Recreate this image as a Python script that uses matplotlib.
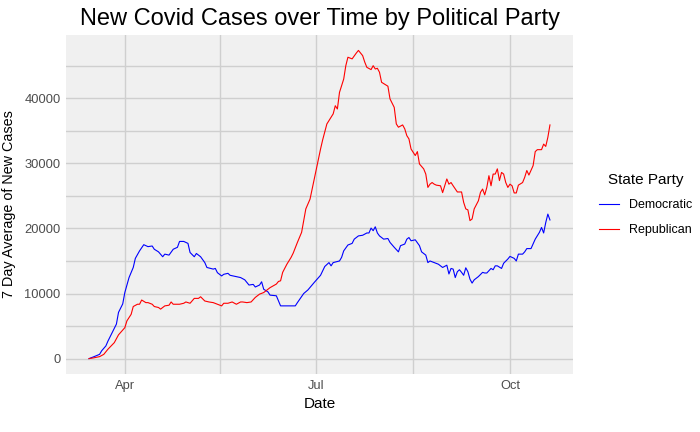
import matplotlib
matplotlib.use('Agg')
import matplotlib.pyplot as plt
import matplotlib.dates as mdates
import pandas as pd

plt.rcParams['font.family'] = ['Liberation Sans', 'DejaVu Sans']

# dni od 15 marca 2020 i 7-dniowa średnia nowych przypadków
start = pd.Timestamp('2020-03-15')

dem_days = [0, 2, 5, 6, 8, 9, 11, 13, 14, 16, 17, 19, 21, 22, 24, 26, 28, 30, 31, 33,
            35, 36, 38, 40, 42, 43, 45, 47, 48, 50, 51, 53, 55, 56, 59, 60, 61, 63, 64, 66,
            67, 70, 72, 74, 76, 78, 79, 81, 82, 83, 85, 86, 89, 91, 98, 99, 102, 104, 107, 110,
            112, 114, 115, 116, 119, 120, 121, 123, 125, 126, 128, 130, 132, 133, 134, 135, 136, 137, 138, 140,
            142, 143, 145, 147, 148, 150, 151, 152, 153, 155, 157, 158, 160, 161, 162, 164, 166, 167, 168, 170,
            171, 172, 173, 174, 175, 176, 177, 178, 179, 180, 181, 182, 183, 185, 187, 188, 189, 191, 192, 193,
            194, 196, 197, 199, 200, 202, 203, 204, 206, 207, 208, 210, 212, 214, 215, 216, 217, 218, 219]
dem_cases = [0, 250, 650, 1200, 1950, 2700, 4000, 5300, 7100, 8400, 10150, 12450, 14000, 15400, 16550, 17500, 17200, 17300, 16800, 16400,
             15650, 16050, 15900, 16800, 17100, 18000, 18000, 17700, 16300, 15650, 16150, 15650, 14750, 14000, 13750, 13850, 13200, 12700, 12950, 13100,
             12800, 12600, 12450, 12100, 11300, 11400, 11000, 11300, 11800, 10650, 10250, 9750, 9650, 8100, 8100, 8600, 10000, 10550, 11700, 12800,
             14150, 14750, 14250, 14750, 15000, 15550, 16550, 17450, 17700, 18350, 18850, 18950, 19300, 19300, 20050, 19650, 20250, 19300, 18850, 18350,
             18450, 17850, 17100, 16400, 17350, 17600, 18350, 18600, 18100, 18250, 17350, 16400, 15900, 14750, 15000, 14750, 14500, 14250, 14000, 14350,
             13000, 13850, 13750, 12450, 13350, 13650, 13250, 12800, 13950, 13350, 12200, 11600, 12100, 12600, 13250, 13150, 13150, 13850, 13650, 14250,
             14250, 13850, 14650, 15300, 15700, 15400, 15000, 16050, 16050, 16400, 16900, 16900, 18350, 19400, 20150, 19300, 20900, 22200, 21300]

rep_days = [0, 2, 5, 7, 9, 12, 14, 17, 18, 20, 21, 23, 24, 25, 27, 28, 30, 31, 33, 34,
            36, 38, 39, 40, 43, 45, 46, 48, 50, 52, 53, 55, 57, 59, 61, 63, 64, 66, 68, 70,
            72, 73, 75, 77, 79, 81, 83, 85, 86, 89, 90, 91, 92, 94, 96, 97, 99, 101, 103, 105,
            106, 108, 109, 110, 111, 113, 115, 116, 117, 118, 119, 121, 122, 123, 125, 127, 128, 130, 131, 132,
            134, 135, 136, 137, 138, 139, 141, 142, 143, 145, 146, 147, 149, 150, 151, 152, 153, 155, 156, 157,
            159, 160, 161, 162, 163, 164, 165, 167, 168, 170, 171, 172, 173, 175, 177, 178, 179, 180, 181, 182,
            183, 185, 186, 187, 188, 189, 190, 191, 192, 193, 194, 195, 196, 197, 198, 199, 200, 201, 202, 203,
            204, 206, 207, 208, 209, 211, 212, 213, 215, 216, 217, 218, 219]
rep_cases = [0, 100, 300, 650, 1450, 2450, 3650, 4750, 5800, 6800, 8000, 8350, 8350, 9000, 8600, 8600, 8350, 8000, 7850, 7600,
             8100, 8200, 8700, 8350, 8350, 8500, 8700, 8500, 9250, 9250, 9500, 8850, 8700, 8600, 8350, 8100, 8500, 8500, 8700, 8350,
             8700, 8700, 8600, 8700, 9400, 9900, 10150, 10650, 10900, 11450, 11850, 11950, 13250, 14500, 15550, 16200, 17850, 19400, 23000, 24500,
             26050, 29150, 30650, 32200, 33600, 36050, 37100, 37600, 38850, 38350, 40900, 42950, 45000, 46300, 46050, 46950, 47350, 46550, 45550, 44750,
             44400, 45000, 44500, 44600, 44000, 42450, 42050, 41850, 39900, 38600, 36050, 35550, 35900, 35300, 34250, 33750, 32200, 31200, 31800, 29900,
             29150, 28350, 26300, 26800, 27050, 26800, 26650, 26550, 25500, 27600, 26800, 27050, 26550, 25600, 25600, 24000, 23000, 22850, 21200, 21450,
             23000, 24250, 25550, 26050, 25150, 26300, 28100, 26550, 28350, 28350, 29150, 27350, 28600, 28350, 27050, 26300, 26800, 26550, 25450, 25450,
             26650, 27050, 27850, 28900, 28200, 29650, 31800, 32100, 32100, 32950, 32600, 34000, 35900]

dem_dates = start + pd.to_timedelta(dem_days, unit='D')
rep_dates = start + pd.to_timedelta(rep_days, unit='D')

fig = plt.figure(figsize=(7, 4.32), dpi=100)
ax = fig.add_axes([66 / 700, 1 - 374 / 432, (573 - 66) / 700, (374 - 35) / 432])
ax.set_facecolor('#F0F0F0')

ax.plot(dem_dates, dem_cases, color='blue', linewidth=0.8, label='Democratic')
ax.plot(rep_dates, rep_cases, color='red', linewidth=0.8, label='Republican')

ax.margins(x=0.05, y=0.05)

# siatka jak w ggplot
ax.set_yticks([0, 10000, 20000, 30000, 40000])
ax.set_yticks([5000, 15000, 25000, 35000, 45000], minor=True)
ax.set_xticks(pd.to_datetime(['2020-04-01', '2020-07-01', '2020-10-01']))
ax.set_xticks(pd.to_datetime(['2020-05-16', '2020-08-16']), minor=True)
ax.xaxis.set_major_formatter(mdates.DateFormatter('%b'))
ax.grid(True, which='both', color='#CFCFCF', linewidth=1.0)
ax.set_axisbelow(True)
ax.tick_params(which='major', length=0, pad=4, labelsize=9.3, labelcolor='#4D4D4D')
ax.tick_params(which='minor', length=0)
for s in ax.spines.values():
    s.set_visible(False)

ax.set_xlabel('Date', fontsize=11, labelpad=4)
ax.set_ylabel('7 Day Average of New Cases', fontsize=10.4, labelpad=6)
ax.set_title('New Covid Cases over Time by Political Party', fontsize=17, pad=7)

ax.legend(title='State Party', loc='center left', bbox_to_anchor=(1.03, 0.5),
          frameon=False, fontsize=9, title_fontsize=11, handlelength=1.6,
          labelspacing=1.0)

plt.savefig('out.png', dpi=100)
plt.close()
